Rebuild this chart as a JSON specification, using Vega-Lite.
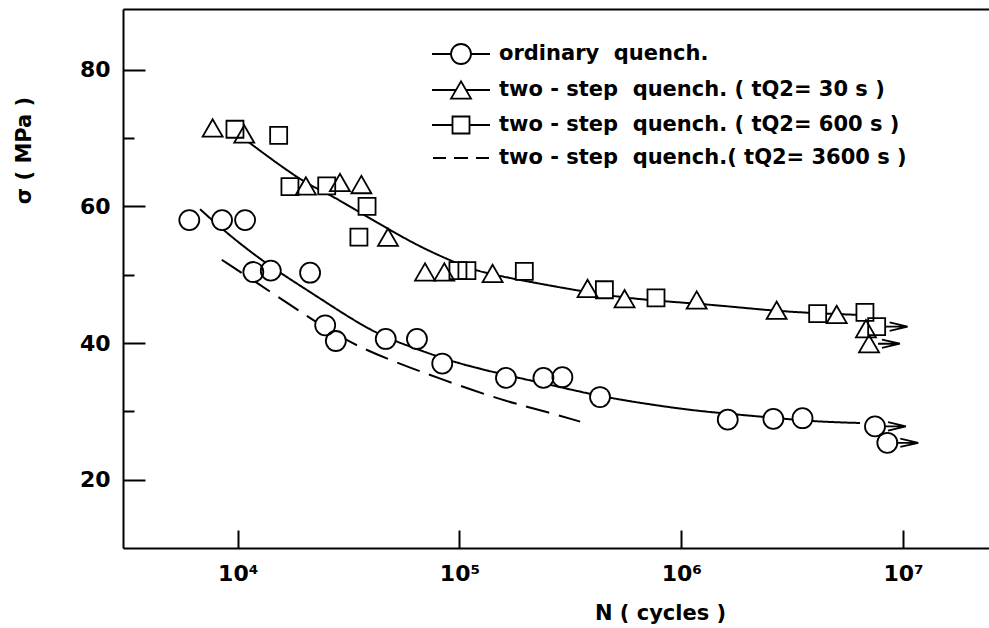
{
  "$schema": "https://vega.github.io/schema/vega-lite/v6.json",
  "width": 866,
  "height": 539,
  "autosize": {"type": "none"},
  "padding": {"left": 123, "top": 9, "right": 0, "bottom": 80},
  "background": "white",
  "config": {
    "view": {"stroke": null},
    "font": "DejaVu Sans",
    "axis": {"grid": false, "domainColor": "black", "tickColor": "black", "labelColor": "black", "titleColor": "black", "domainWidth": 2, "tickWidth": 2, "labelFont": "DejaVu Sans", "labelFontWeight": "bold", "titleFont": "DejaVu Sans", "titleFontWeight": "bold"}
  },
  "datasets": {
    "points": [
      {"series": "ordinary\u00a0\u00a0quench.", "N": 6050, "s": 58.0, "runout": false},
      {"series": "ordinary\u00a0\u00a0quench.", "N": 8500, "s": 58.0, "runout": false},
      {"series": "ordinary\u00a0\u00a0quench.", "N": 10800, "s": 58.0, "runout": false},
      {"series": "ordinary\u00a0\u00a0quench.", "N": 11760, "s": 50.4, "runout": false},
      {"series": "ordinary\u00a0\u00a0quench.", "N": 14100, "s": 50.6, "runout": false},
      {"series": "ordinary\u00a0\u00a0quench.", "N": 21200, "s": 50.3, "runout": false},
      {"series": "ordinary\u00a0\u00a0quench.", "N": 24800, "s": 42.6, "runout": false},
      {"series": "ordinary\u00a0\u00a0quench.", "N": 27700, "s": 40.3, "runout": false},
      {"series": "ordinary\u00a0\u00a0quench.", "N": 46500, "s": 40.6, "runout": false},
      {"series": "ordinary\u00a0\u00a0quench.", "N": 64300, "s": 40.6, "runout": false},
      {"series": "ordinary\u00a0\u00a0quench.", "N": 83600, "s": 37.0, "runout": false},
      {"series": "ordinary\u00a0\u00a0quench.", "N": 162000, "s": 34.9, "runout": false},
      {"series": "ordinary\u00a0\u00a0quench.", "N": 239000, "s": 34.9, "runout": false},
      {"series": "ordinary\u00a0\u00a0quench.", "N": 291000, "s": 35.0, "runout": false},
      {"series": "ordinary\u00a0\u00a0quench.", "N": 430000, "s": 32.1, "runout": false},
      {"series": "ordinary\u00a0\u00a0quench.", "N": 1620000, "s": 28.8, "runout": false},
      {"series": "ordinary\u00a0\u00a0quench.", "N": 2600000, "s": 28.9, "runout": false},
      {"series": "ordinary\u00a0\u00a0quench.", "N": 3520000, "s": 29.0, "runout": false},
      {"series": "ordinary\u00a0\u00a0quench.", "N": 7470000, "s": 27.8, "runout": true},
      {"series": "ordinary\u00a0\u00a0quench.", "N": 8490000, "s": 25.4, "runout": true},
      {"series": "two - step\u00a0\u00a0quench. ( tQ2= 30 s )", "N": 7710, "s": 71.5, "runout": false},
      {"series": "two - step\u00a0\u00a0quench. ( tQ2= 30 s )", "N": 10700, "s": 70.6, "runout": false},
      {"series": "two - step\u00a0\u00a0quench. ( tQ2= 30 s )", "N": 20300, "s": 63.0, "runout": false},
      {"series": "two - step\u00a0\u00a0quench. ( tQ2= 30 s )", "N": 28900, "s": 63.5, "runout": false},
      {"series": "two - step\u00a0\u00a0quench. ( tQ2= 30 s )", "N": 36100, "s": 63.2, "runout": false},
      {"series": "two - step\u00a0\u00a0quench. ( tQ2= 30 s )", "N": 47600, "s": 55.5, "runout": false},
      {"series": "two - step\u00a0\u00a0quench. ( tQ2= 30 s )", "N": 69900, "s": 50.4, "runout": false},
      {"series": "two - step\u00a0\u00a0quench. ( tQ2= 30 s )", "N": 85400, "s": 50.4, "runout": false},
      {"series": "two - step\u00a0\u00a0quench. ( tQ2= 30 s )", "N": 141000, "s": 50.2, "runout": false},
      {"series": "two - step\u00a0\u00a0quench. ( tQ2= 30 s )", "N": 378000, "s": 48.0, "runout": false},
      {"series": "two - step\u00a0\u00a0quench. ( tQ2= 30 s )", "N": 555000, "s": 46.5, "runout": false},
      {"series": "two - step\u00a0\u00a0quench. ( tQ2= 30 s )", "N": 1173000, "s": 46.3, "runout": false},
      {"series": "two - step\u00a0\u00a0quench. ( tQ2= 30 s )", "N": 2690000, "s": 44.8, "runout": false},
      {"series": "two - step\u00a0\u00a0quench. ( tQ2= 30 s )", "N": 5020000, "s": 44.2, "runout": false},
      {"series": "two - step\u00a0\u00a0quench. ( tQ2= 30 s )", "N": 6800000, "s": 42.1, "runout": false},
      {"series": "two - step\u00a0\u00a0quench. ( tQ2= 30 s )", "N": 7020000, "s": 39.9, "runout": true},
      {"series": "two - step\u00a0\u00a0quench. ( tQ2= 600 s )", "N": 9720, "s": 71.3, "runout": false},
      {"series": "two - step\u00a0\u00a0quench. ( tQ2= 600 s )", "N": 15300, "s": 70.4, "runout": false},
      {"series": "two - step\u00a0\u00a0quench. ( tQ2= 600 s )", "N": 17200, "s": 62.9, "runout": false},
      {"series": "two - step\u00a0\u00a0quench. ( tQ2= 600 s )", "N": 25200, "s": 63.0, "runout": false},
      {"series": "two - step\u00a0\u00a0quench. ( tQ2= 600 s )", "N": 38300, "s": 60.0, "runout": false},
      {"series": "two - step\u00a0\u00a0quench. ( tQ2= 600 s )", "N": 35200, "s": 55.5, "runout": false},
      {"series": "two - step\u00a0\u00a0quench. ( tQ2= 600 s )", "N": 98400, "s": 50.6, "runout": false},
      {"series": "two - step\u00a0\u00a0quench. ( tQ2= 600 s )", "N": 108000, "s": 50.6, "runout": false},
      {"series": "two - step\u00a0\u00a0quench. ( tQ2= 600 s )", "N": 196000, "s": 50.5, "runout": false},
      {"series": "two - step\u00a0\u00a0quench. ( tQ2= 600 s )", "N": 450000, "s": 47.8, "runout": false},
      {"series": "two - step\u00a0\u00a0quench. ( tQ2= 600 s )", "N": 769000, "s": 46.6, "runout": false},
      {"series": "two - step\u00a0\u00a0quench. ( tQ2= 600 s )", "N": 4120000, "s": 44.3, "runout": false},
      {"series": "two - step\u00a0\u00a0quench. ( tQ2= 600 s )", "N": 6730000, "s": 44.5, "runout": false},
      {"series": "two - step\u00a0\u00a0quench. ( tQ2= 600 s )", "N": 7600000, "s": 42.4, "runout": true}
    ],
    "curves": [
      {"curve": "ord", "N": 6761, "s": 59.6},
      {"curve": "ord", "N": 8913, "s": 56.1},
      {"curve": "ord", "N": 13030, "s": 51.9},
      {"curve": "ord", "N": 19770, "s": 48.1},
      {"curve": "ord", "N": 25180, "s": 45.9},
      {"curve": "ord", "N": 40830, "s": 41.5},
      {"curve": "ord", "N": 61940, "s": 39.3},
      {"curve": "ord", "N": 93760, "s": 37.2},
      {"curve": "ord", "N": 152400, "s": 35.5},
      {"curve": "ord", "N": 255900, "s": 33.9},
      {"curve": "ord", "N": 429500, "s": 32.2},
      {"curve": "ord", "N": 722800, "s": 31.0},
      {"curve": "ord", "N": 1213000, "s": 30.0},
      {"curve": "ord", "N": 2183000, "s": 29.3},
      {"curve": "ord", "N": 3936000, "s": 28.5},
      {"curve": "ord", "N": 6397000, "s": 28.3},
      {"curve": "two", "N": 10790, "s": 69.8},
      {"curve": "two", "N": 19680, "s": 63.5},
      {"curve": "two", "N": 25290, "s": 62.0},
      {"curve": "two", "N": 35560, "s": 59.1},
      {"curve": "two", "N": 50120, "s": 56.3},
      {"curve": "two", "N": 66370, "s": 54.1},
      {"curve": "two", "N": 93540, "s": 51.9},
      {"curve": "two", "N": 120000, "s": 50.5},
      {"curve": "two", "N": 181600, "s": 49.3},
      {"curve": "two", "N": 337300, "s": 47.7},
      {"curve": "two", "N": 605300, "s": 46.4},
      {"curve": "two", "N": 1306000, "s": 45.7},
      {"curve": "two", "N": 2432000, "s": 44.8},
      {"curve": "two", "N": 3802000, "s": 44.4},
      {"curve": "two", "N": 6531000, "s": 44.1},
      {"curve": "dash", "N": 8472, "s": 52.2},
      {"curve": "dash", "N": 11970, "s": 49.0},
      {"curve": "dash", "N": 19100, "s": 44.6},
      {"curve": "dash", "N": 30970, "s": 40.2},
      {"curve": "dash", "N": 50350, "s": 37.3},
      {"curve": "dash", "N": 84530, "s": 34.6},
      {"curve": "dash", "N": 152400, "s": 31.7},
      {"curve": "dash", "N": 255900, "s": 29.8},
      {"curve": "dash", "N": 349900, "s": 28.5}
    ]
  },
  "layer": [
    {
      "data": {"name": "curves"},
      "mark": {"type": "line", "interpolate": "basis", "strokeWidth": 2, "color": "black"},
      "encoding": {
        "x": {"field": "N", "type": "quantitative",
          "scale": {"type": "log", "domain": [3040, 24396000], "nice": false, "zero": false},
          "axis": {"values": [10000, 100000, 1000000, 10000000],
            "labelExpr": "datum.value < 50000 ? '10⁴' : datum.value < 500000 ? '10⁵' : datum.value < 5000000 ? '10⁶' : '10⁷'",
            "tickSize": -18, "labelPadding": 33, "labelFontSize": 22, "labelBaseline": "top", "labelAlign": "center",
            "title": "N  ( cycles )", "titleFontSize": 21, "titleX": 537, "titleY": 71, "titleBaseline": "alphabetic", "titleAlign": "center"}},
        "y": {"field": "s", "type": "quantitative",
          "scale": {"domain": [10, 88.9], "nice": false, "zero": false},
          "axis": {"values": [20, 40, 60, 80], "tickSize": -22, "labelPadding": 35, "labelFontSize": 22,
            "title": "σ ( MPa )", "titleFontSize": 21, "titleAngle": -90, "titleX": -99, "titleY": 141, "titleAlign": "center", "titleBaseline": "middle"}},
        "strokeDash": {"field": "curve", "type": "nominal",
          "scale": {"domain": ["ord", "two", "dash"], "range": [[1, 0], [1, 0], [24, 10]]}, "legend": null}
      }
    },
    {
      "data": {"name": "points"},
      "mark": {"type": "point", "filled": true, "fill": "white", "strokeOpacity": 0, "size": 400, "opacity": 1},
      "encoding": {
        "x": {"field": "N", "type": "quantitative",
          "scale": {"type": "log", "domain": [3040, 24396000], "nice": false, "zero": false},
          "axis": {"orient": "top", "ticks": false, "labels": false, "domain": true, "domainWidth": 2, "title": null}},
        "y": {"field": "s", "type": "quantitative",
          "scale": {"domain": [10, 88.9], "nice": false, "zero": false},
          "axis": {"orient": "left", "values": [30, 50, 70], "tickSize": -11, "labels": false, "domain": false, "title": null}},
        "shape": {"field": "series", "type": "nominal",
          "scale": {"domain": ["ordinary\u00a0\u00a0quench.", "two - step\u00a0\u00a0quench. ( tQ2= 30 s )", "two - step\u00a0\u00a0quench. ( tQ2= 600 s )", "two - step\u00a0\u00a0quench.( tQ2= 3600 s )"],
            "range": ["circle", "triangle-up", "M-0.85,-0.85H0.85V0.85H-0.85Z", "circle"]},
          "legend": null}
      }
    },
    {
      "data": {"name": "points"},
      "mark": {"type": "point", "filled": false, "stroke": "black", "strokeWidth": 1.8, "size": 400, "opacity": 1},
      "encoding": {
        "x": {"field": "N", "type": "quantitative", "scale": {"type": "log", "domain": [3040, 24396000], "nice": false, "zero": false}, "axis": null},
        "y": {"field": "s", "type": "quantitative", "scale": {"domain": [10, 88.9], "nice": false, "zero": false}, "axis": null},
        "shape": {"field": "series", "type": "nominal",
          "scale": {"domain": ["ordinary\u00a0\u00a0quench.", "two - step\u00a0\u00a0quench. ( tQ2= 30 s )", "two - step\u00a0\u00a0quench. ( tQ2= 600 s )", "two - step\u00a0\u00a0quench.( tQ2= 3600 s )"],
            "range": ["circle", "triangle-up", "M-0.85,-0.85H0.85V0.85H-0.85Z", "circle"]},
          "legend": null}
      }
    },
    {
      "data": {"name": "points"},
      "transform": [{"filter": "datum.runout"}],
      "mark": {"type": "point", "shape": "M0.9,0H3.1M3.1,0L1.3,-0.42M3.1,0L1.3,0.42", "filled": false, "stroke": "black", "strokeWidth": 1.8, "size": 400, "opacity": 1},
      "encoding": {
        "x": {"field": "N", "type": "quantitative", "scale": {"type": "log", "domain": [3040, 24396000], "nice": false, "zero": false}, "axis": null},
        "y": {"field": "s", "type": "quantitative", "scale": {"domain": [10, 88.9], "nice": false, "zero": false}, "axis": null}
      }
    },
    {
      "data": {"name": "points"},
      "mark": {"type": "point", "filled": false, "stroke": "black", "strokeWidth": 1.8, "size": 400, "opacity": 0},
      "encoding": {
        "x": {"field": "N", "type": "quantitative", "scale": {"type": "log", "domain": [3040, 24396000], "nice": false, "zero": false}, "axis": null},
        "y": {"field": "s", "type": "quantitative", "scale": {"domain": [10, 88.9], "nice": false, "zero": false}, "axis": null},
        "shape": {"field": "series", "type": "nominal",
          "scale": {"domain": ["ordinary\u00a0\u00a0quench.", "two - step\u00a0\u00a0quench. ( tQ2= 30 s )", "two - step\u00a0\u00a0quench. ( tQ2= 600 s )", "two - step\u00a0\u00a0quench.( tQ2= 3600 s )"],
            "range": ["M-2.9,0H-1M1,0H2.9M-1,0A1,1,0,1,0,1,0A1,1,0,1,0,-1,0", "M-2.9,0H-0.5M0.5,0H2.9M0,-0.866L-1,0.866L1,0.866Z", "M-2.9,0H-0.85M0.85,0H2.9M-0.85,-0.85H0.85V0.85H-0.85Z", "M-2.8,0H-1.5M-0.7,0H0.7M1.5,0H2.8"]},
          "legend": {"orient": "none", "legendX": 327, "legendY": 34, "title": null, "padding": 0,
            "labelFontSize": 21, "labelFont": "DejaVu Sans", "labelFontWeight": "bold", "labelColor": "black", "labelLimit": 800,
            "labelOffset": 27, "rowPadding": 9, "symbolSize": 400, "symbolStrokeWidth": 1.8, "symbolStrokeColor": "black", "symbolFillColor": "white", "symbolOpacity": 1}}
      }
    }
  ],
  "resolve": {"axis": {"x": "independent", "y": "independent"}, "scale": {"shape": "independent"}}
}
